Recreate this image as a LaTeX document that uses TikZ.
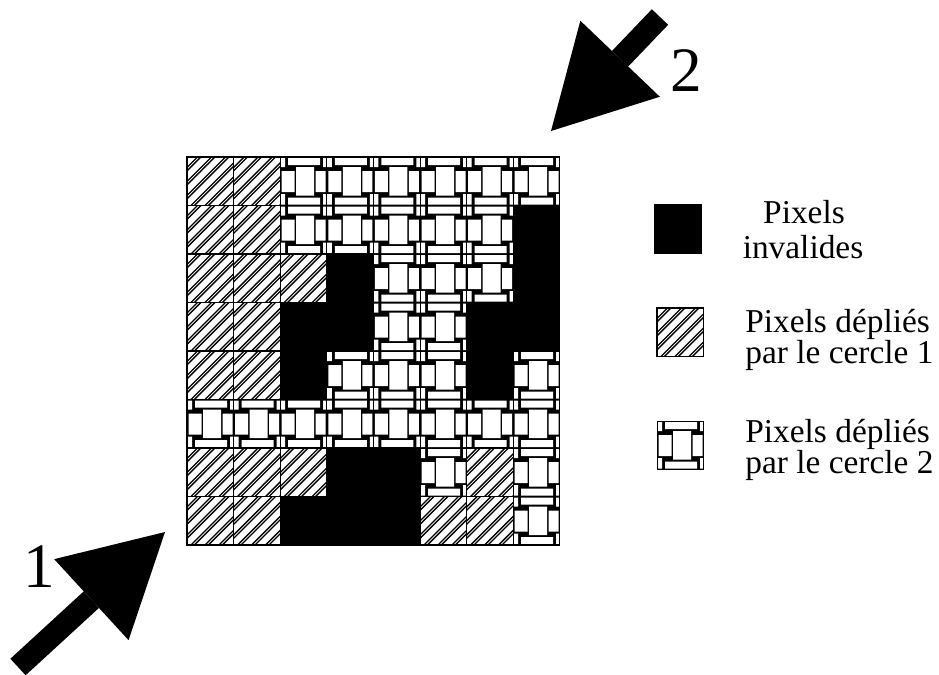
\documentclass[tikz,border=0pt]{standalone}
\usepackage{fontspec}
\setmainfont{Liberation Serif}
\usepackage{tikz}
\usetikzlibrary{arrows.meta}

\tikzset{
  cellframe/.style={draw=black,line width=0.6pt},
  hatchline/.style={draw=black,line width=0.75pt},
  legtext/.style={inner sep=0pt,font=\fontsize{19}{20}\selectfont},
  numlabel/.style={inner sep=0pt,font=\fontsize{36}{40}\selectfont},
  bigarrow/.style={line width=0.45cm,-{Triangle[length=2cm,width=2.2cm,line width=0pt]}},
  % pixel deplie par le cercle 1 : hachures doubles
  pics/depl1/.style={code={
    \begin{scope}
      \clip (0,0) rectangle (46.6,48.5);
      \foreach \a in {-52,-38,...,50}{
        \draw[hatchline] (\a,48.5) -- ++(48.5,-48.5);
        \draw[hatchline] (\a+3.4,48.5) -- ++(48.5,-48.5);
      }
    \end{scope}
    \draw[cellframe] (0,0) rectangle (46.6,48.5);
  }},
  % pixel deplie par le cercle 2 : tissage
  pics/depl2/.style={code={
    \fill[black] (0,0) rectangle (46.6,48.5);
    \fill[white] (8,1) rectangle (40,8)
                 (8,40.5) rectangle (40,47.5)
                 (16,10) rectangle (34,38.5)
                 (1.5,14) rectangle (14.5,35)
                 (35.5,14) rectangle (45.5,35)
                 (43,1) rectangle (46.6,10)
                 (0,1) rectangle (5,10)
                 (43,37) rectangle (46.6,47.5)
                 (0,37) rectangle (5,47.5);
    \draw[black,line width=0.4pt] (0,0) rectangle (46.6,48.5);
  }},
  % pixel invalide
  pics/invalide/.style={code={
    \fill[black] (0,0) rectangle (46.6,48.5);
    \draw[cellframe] (0,0) rectangle (46.6,48.5);
  }}
}

\begin{document}
\begin{tikzpicture}[x=0.02cm,y=-0.02cm]
\useasboundingbox (0,0) rectangle (939,674);

% grille 8x8
\begin{scope}[shift={(187,157)}]
  \foreach \rowcells [count=\r from 0] in {
    {depl1,depl1,depl2,depl2,depl2,depl2,depl2,depl2},
    {depl1,depl1,depl2,depl2,depl2,depl2,depl2,invalide},
    {depl1,depl1,depl1,invalide,depl2,depl2,depl2,invalide},
    {depl1,depl1,invalide,invalide,depl2,depl2,invalide,invalide},
    {depl1,depl1,invalide,depl2,depl2,depl2,invalide,depl2},
    {depl2,depl2,depl2,depl2,depl2,depl2,depl2,depl2},
    {depl1,depl1,depl1,invalide,invalide,depl2,depl1,depl2},
    {depl1,depl1,invalide,invalide,invalide,depl1,depl1,depl2}}{
    \foreach \cell [count=\c from 0] in \rowcells
      \pic at (\c*46.6,\r*48.5) {\cell};
  }
  \draw[cellframe] (0,0) rectangle (372.8,388);
\end{scope}

% fleches
\coordinate (tail1) at (18,667);
\coordinate (tip1) at (165,532);
\coordinate (tail2) at (660,17);
\coordinate (tip2) at (551,131);
\draw[bigarrow] (tail1) -- (tip1);
\draw[bigarrow] (tail2) -- (tip2);
\node[numlabel] (lab1) at (39,567) {1};
\node[numlabel] (lab2) at (686,71) {2};

% legende
\pic at (655,205) {invalide};
\pic at (657,308) {depl1};
\pic at (657,421) {depl2};
\node[legtext,anchor=base] (inv1) at (804,223) {Pixels};
\node[legtext,anchor=base] (inv2) at (803,258) {invalides};
\node[legtext,anchor=base west] (c1a) at (745,332) {Pixels dépliés};
\node[legtext,anchor=base west] (c1b) at (745,363) {par le cercle 1};
\node[legtext,anchor=base west] (c2a) at (745,442) {Pixels dépliés};
\node[legtext,anchor=base west] (c2b) at (745,473) {par le cercle 2};
\end{tikzpicture}
\end{document}
